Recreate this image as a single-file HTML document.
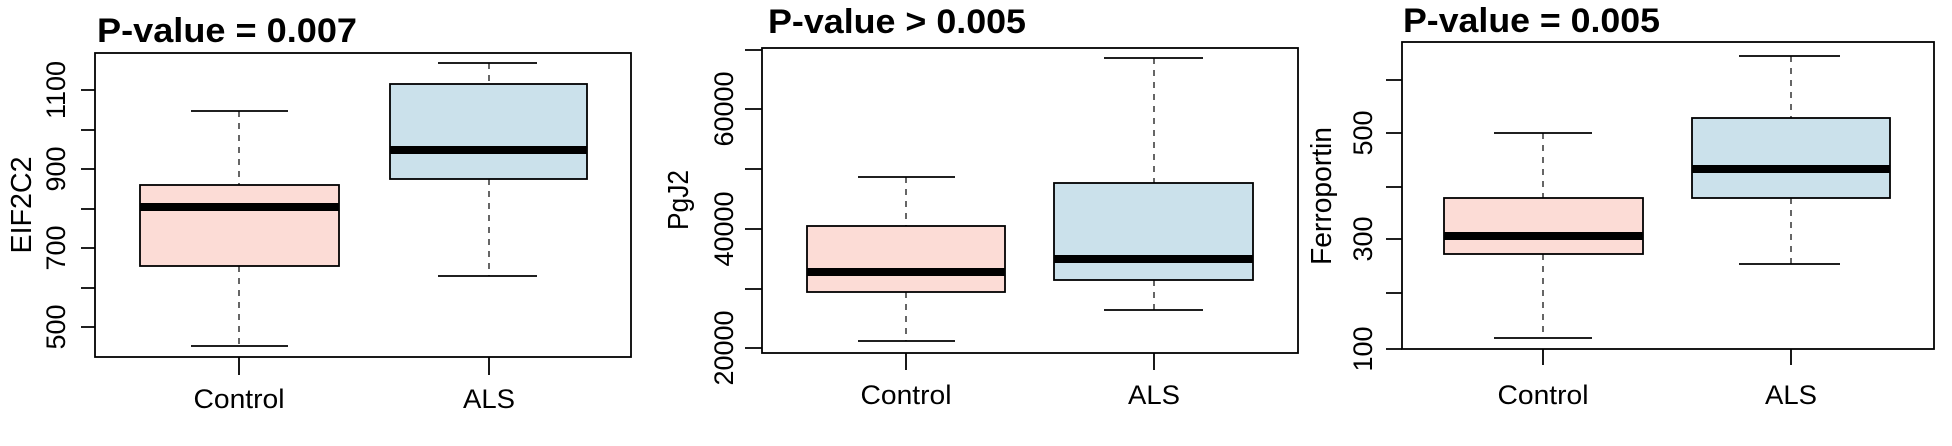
<!DOCTYPE html>
<html><head><meta charset="utf-8"><style>
html,body{margin:0;padding:0;background:#fff;}
svg{display:block;}
.t{font-family:"Liberation Sans Narrow","Liberation Sans",sans-serif;font-weight:bold;font-size:34px;}
.a{font-family:"Liberation Sans Narrow","Liberation Sans",sans-serif;font-size:27px;}
.n{font-family:"Liberation Sans",sans-serif;font-size:27px;}
.y{font-family:"Liberation Sans",sans-serif;font-size:29px;}
</style></head><body>
<svg width="1952" height="446" viewBox="0 0 1952 446" xmlns="http://www.w3.org/2000/svg" stroke-linecap="butt">
<g fill="none" stroke="#000">
<!-- Panel 1 -->
<rect x="95" y="53" width="536" height="304" stroke-width="1.8"/>
<path d="M95 90H81M95 130H81M95 169H81M95 209H81M95 248H81M95 288H81M95 327H81" stroke-width="1.8"/>
<path d="M239 357V375M489 357V375" stroke-width="1.8"/>
<path d="M239 111V185M239 266V346M489 63V84M489 179V276" stroke-width="1.2" stroke-dasharray="6,6"/>
<path d="M191 111H288M191 346H288M438 63H537M438 276H537" stroke-width="1.8"/>
<rect x="140" y="185" width="199" height="81" fill="#fcdcd6" stroke-width="1.8"/>
<rect x="390" y="84" width="197" height="95" fill="#cbe1eb" stroke-width="1.8"/>
<path d="M140 207H339M390 150H587" stroke-width="8"/>
<!-- Panel 2 -->
<rect x="762" y="48" width="536" height="305" stroke-width="1.8"/>
<path d="M762 50H745M762 109H745M762 169H745M762 229H745M762 289H745M762 348H745" stroke-width="1.8"/>
<path d="M906 353V370M1154 353V370" stroke-width="1.8"/>
<path d="M906 177V226M906 292V341M1154 58V183M1154 280V310" stroke-width="1.2" stroke-dasharray="6,6"/>
<path d="M858 177H955M858 341H955M1104 58H1203M1104 310H1203" stroke-width="1.8"/>
<rect x="807" y="226" width="198" height="66" fill="#fcdcd6" stroke-width="1.8"/>
<rect x="1054" y="183" width="199" height="97" fill="#cbe1eb" stroke-width="1.8"/>
<path d="M807 272H1005M1054 259H1253" stroke-width="8"/>
<!-- Panel 3 -->
<rect x="1402" y="42" width="532" height="307" stroke-width="1.8"/>
<path d="M1402 80H1386M1402 133H1386M1402 187H1386M1402 239H1386M1402 293H1386M1402 349H1386" stroke-width="1.8"/>
<path d="M1543 349V365M1791 349V365" stroke-width="1.8"/>
<path d="M1543 133V198M1543 254V338M1791 56V118M1791 198V264" stroke-width="1.2" stroke-dasharray="6,6"/>
<path d="M1494 133H1592M1494 338H1592M1739 56H1840M1739 264H1840" stroke-width="1.8"/>
<rect x="1444" y="198" width="199" height="56" fill="#fcdcd6" stroke-width="1.8"/>
<rect x="1692" y="118" width="198" height="80" fill="#cbe1eb" stroke-width="1.8"/>
<path d="M1444 236H1643M1692 169H1890" stroke-width="8"/>
</g>
<g fill="#000">
<text class="t" x="97" y="42" textLength="260" lengthAdjust="spacingAndGlyphs">P-value = 0.007</text>
<text class="t" x="768" y="33" textLength="258" lengthAdjust="spacingAndGlyphs">P-value &gt; 0.005</text>
<text class="t" x="1403" y="32" textLength="257" lengthAdjust="spacingAndGlyphs">P-value = 0.005</text>

<text class="a" x="239" y="408" text-anchor="middle" textLength="91" lengthAdjust="spacingAndGlyphs">Control</text>
<text class="a" x="489" y="408" text-anchor="middle" textLength="52" lengthAdjust="spacingAndGlyphs">ALS</text>
<text class="a" x="906" y="404" text-anchor="middle" textLength="91" lengthAdjust="spacingAndGlyphs">Control</text>
<text class="a" x="1154" y="404" text-anchor="middle" textLength="52" lengthAdjust="spacingAndGlyphs">ALS</text>
<text class="a" x="1543" y="404" text-anchor="middle" textLength="91" lengthAdjust="spacingAndGlyphs">Control</text>
<text class="a" x="1791" y="404" text-anchor="middle" textLength="52" lengthAdjust="spacingAndGlyphs">ALS</text>

<g class="n" text-anchor="middle">
<text transform="translate(65,90) rotate(-90)">1100</text>
<text transform="translate(65,169) rotate(-90)">900</text>
<text transform="translate(65,248) rotate(-90)">700</text>
<text transform="translate(65,327) rotate(-90)">500</text>
<text transform="translate(733,109) rotate(-90)">60000</text>
<text transform="translate(733,229) rotate(-90)">40000</text>
<text transform="translate(733,348) rotate(-90)">20000</text>
<text transform="translate(1372,133) rotate(-90)">500</text>
<text transform="translate(1372,239) rotate(-90)">300</text>
<text transform="translate(1372,349) rotate(-90)">100</text>
</g>
<g class="y" text-anchor="middle">
<text transform="translate(31,205) rotate(-90)" textLength="97" lengthAdjust="spacingAndGlyphs">EIF2C2</text>
<text transform="translate(688,200) rotate(-90)" textLength="60" lengthAdjust="spacingAndGlyphs">PgJ2</text>
<text transform="translate(1331,196) rotate(-90)" textLength="138" lengthAdjust="spacingAndGlyphs">Ferroportin</text>
</g>
</g>
</svg>
</body></html>
